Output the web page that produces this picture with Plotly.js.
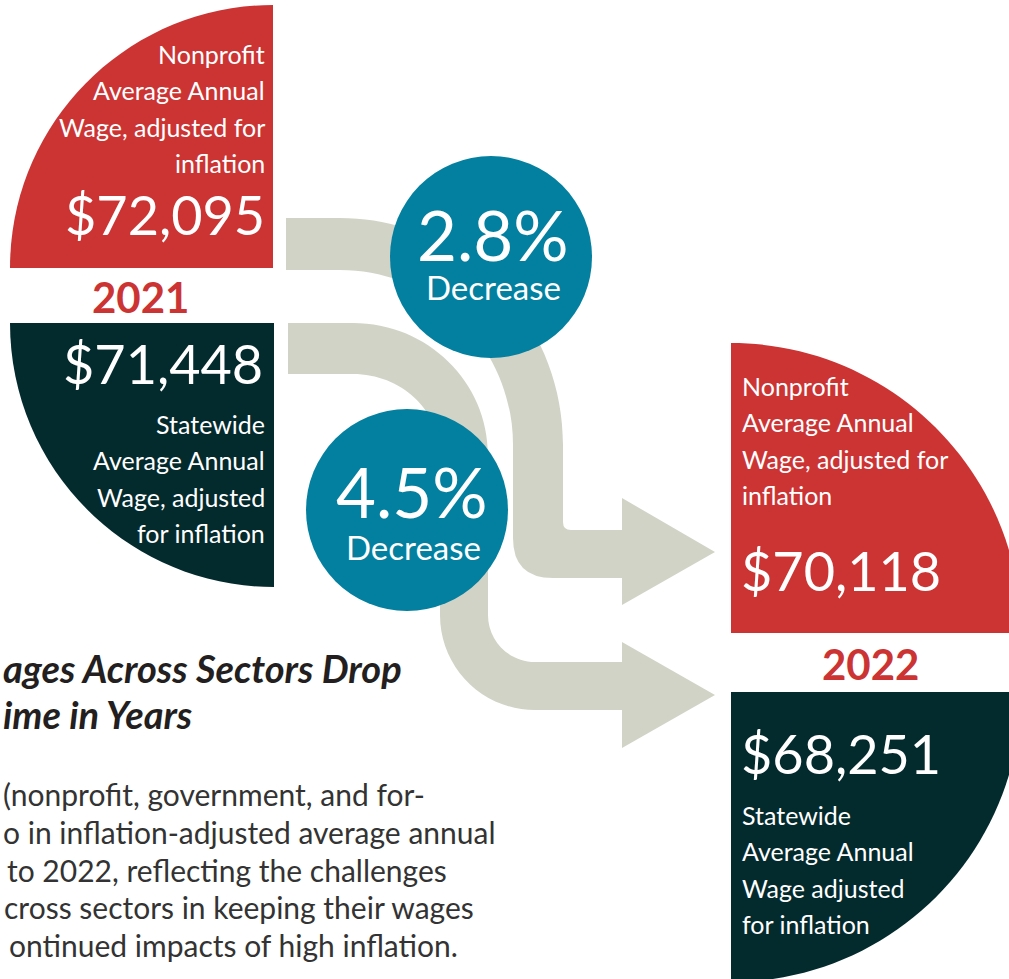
<!DOCTYPE html>
<html>
<head>
<meta charset="utf-8">
<script src="https://cdn.plot.ly/plotly-3.0.1.min.js"></script>
<style>html,body{margin:0;padding:0;background:#fff;}#chart{width:1009px;height:979px;}</style>
</head>
<body>
<div id="chart"></div>
<script>
// ---------- DATA ----------
const years = ['2021', '2022'];
const nonprofitWage = [72095, 70118];
const statewideWage = [71448, 68251];
const pctDecrease = [2.8, 4.5];            // nonprofit, statewide
const changeWord = 'Decrease';
const nonprofitLabelLeft = ['Nonprofit', 'Average Annual', 'Wage, adjusted for', 'inflation'];
const statewideLabelLeft = ['Statewide', 'Average Annual', 'Wage, adjusted', 'for inflation'];
const nonprofitLabelRight = ['Nonprofit', 'Average Annual', 'Wage, adjusted for', 'inflation'];
const statewideLabelRight = ['Statewide', 'Average Annual', 'Wage adjusted', 'for inflation'];
const titleLines = ['ages Across Sectors Drop', 'ime in Years'];
const bodyLines = ['(nonprofit, government, and for-', 'o in inflation-adjusted average annual',
  'to 2022, reflecting the challenges', 'cross sectors in keeping their wages',
  'ontinued impacts of high inflation.'];

// ---------- STYLE ----------
const RED = '#cc3434', DARK = '#032a2d', BLUE = '#03809f', GRAY = '#d2d3c7';
const FONT = 'Lato, "Noto Sans", sans-serif';
const W = 1009, H = 979, K = 0.5523;
const fmt = v => '$' + v.toLocaleString('en-US');

function quarter(cx, cy, r, q) {
  const sx = (q === 'UL' || q === 'LL') ? -1 : 1;
  const sy = (q === 'UL' || q === 'UR') ? -1 : 1;
  return `M ${cx},${cy} L ${cx + sx * r},${cy} C ${cx + sx * r},${cy + sy * K * r} ${cx + sx * K * r},${cy + sy * r} ${cx},${cy + sy * r} Z`;
}

const shapes = [];
function addPath(path, color) {
  shapes.push({type: 'path', xref: 'x', yref: 'y', path: path, fillcolor: color, line: {width: 0}, layer: 'above'});
}
function addCircle(cx, cy, r, color) {
  shapes.push({type: 'circle', xref: 'x', yref: 'y', x0: cx - r, x1: cx + r, y0: cy - r, y1: cy + r,
    fillcolor: color, line: {width: 0}, layer: 'above'});
}

// quarter discs
addPath(quarter(273, 268, 263, 'UL'), RED);
addPath(quarter(274, 323, 264, 'LL'), DARK);
addPath(quarter(731, 633, 290, 'UR'), RED);
addPath(quarter(731, 692, 290, 'LR'), DARK);

// arrows
const topArrow = `M 286,218 L 340,218 C ${340 + K * 223},218 563,${445 - K * 227} 563,445 L 563,522 Q 563,530 571,530 L 622,530 L 622,498 L 715,552 L 622,605 L 622,578 L 553,578 Q 513,578 513,538 L 513,445 C 513,${445 - K * 175} ${340 + K * 173},270 340,270 L 286,270 Z`;
const botArrow = `M 288,323 L 353,323 C ${353 + K * 135},323 488,${455 - K * 132} 488,455 L 488,615 C 488,${615 + K * 47} ${535 - K * 47},662 535,662 L 622,662 L 622,642 L 715,695 L 622,748 L 622,710 L 535,710 C ${535 - K * 95},710 440,${615 + K * 95} 440,615 L 440,455 C 440,${455 - K * 81} ${353 + K * 87},374 353,374 L 288,374 Z`;
addPath(topArrow, GRAY);
addPath(botArrow, GRAY);

// circles
addCircle(491, 257, 101, BLUE);
addCircle(407, 510, 101, BLUE);

// ---------- TEXT ----------
const annotations = [];
function txt(text, x, base, size, color, anchor, opts) {
  opts = opts || {};
  const f = {family: opts.family || FONT, size: size, color: color};
  if (opts.weight) f.weight = opts.weight;
  if (opts.style) f.style = opts.style;
  annotations.push({text: text, x: x, y: base - 0.37 * size, xref: 'x', yref: 'y',
    xanchor: anchor, yanchor: 'middle', valign: 'middle', showarrow: false, font: f, borderpad: 0});
}
const LS = 36.5;
// 2021 nonprofit
nonprofitLabelLeft.forEach((t, i) => txt(t, 266, 63 + i * LS, 25, '#fff', 'right'));
txt(fmt(nonprofitWage[0]), 266, 234, 54, '#fff', 'right');
// 2021 year
txt(years[0], 140, 313, 42, RED, 'center', {weight: 'bold'});
// 2021 statewide
txt(fmt(statewideWage[0]), 264, 383, 54, '#fff', 'right');
statewideLabelLeft.forEach((t, i) => txt(t, 266, 433 + i * LS, 25, '#fff', 'right'));
// 2022 nonprofit
nonprofitLabelRight.forEach((t, i) => txt(t, 741, 395 + i * LS, 25, '#fff', 'left'));
txt(fmt(nonprofitWage[1]), 740, 590, 54, '#fff', 'left');
// 2022 year
txt(years[1], 870, 680, 42, RED, 'center', {weight: 'bold'});
// 2022 statewide
txt(fmt(statewideWage[1]), 740, 773, 54, '#fff', 'left');
statewideLabelRight.forEach((t, i) => txt(t, 741, 824 + i * LS, 25, '#fff', 'left'));
// circles
txt(pctDecrease[0].toFixed(1) + '%', 493, 260, 69, '#fff', 'center');
txt(changeWord, 493, 299, 33, '#fff', 'center');
txt(pctDecrease[1].toFixed(1) + '%', 412, 517, 69, '#fff', 'center');
txt(changeWord, 413, 559, 33, '#fff', 'center');
// title + body
titleLines.forEach((t, i) => txt(t, 2, [682, 728][i], 38, '#231f20', 'left', {weight: 'bold', style: 'italic'}));
const bodyLeft = [2, 2, 6, 3, 8];
bodyLines.forEach((t, i) => txt(t, bodyLeft[i], 805 + i * 37.8, 30, '#333333', 'left'));

const layout = {
  width: W, height: H,
  margin: {l: 0, r: 0, t: 0, b: 0},
  paper_bgcolor: '#ffffff', plot_bgcolor: '#ffffff',
  showlegend: false,
  xaxis: {range: [0, W], visible: false, fixedrange: true},
  yaxis: {range: [H, 0], visible: false, fixedrange: true},
  shapes: shapes,
  annotations: annotations
};
Plotly.newPlot('chart', [{x: [], y: [], type: 'scatter', hoverinfo: 'skip'}], layout, {displayModeBar: false, staticPlot: true});
</script>
</body>
</html>
